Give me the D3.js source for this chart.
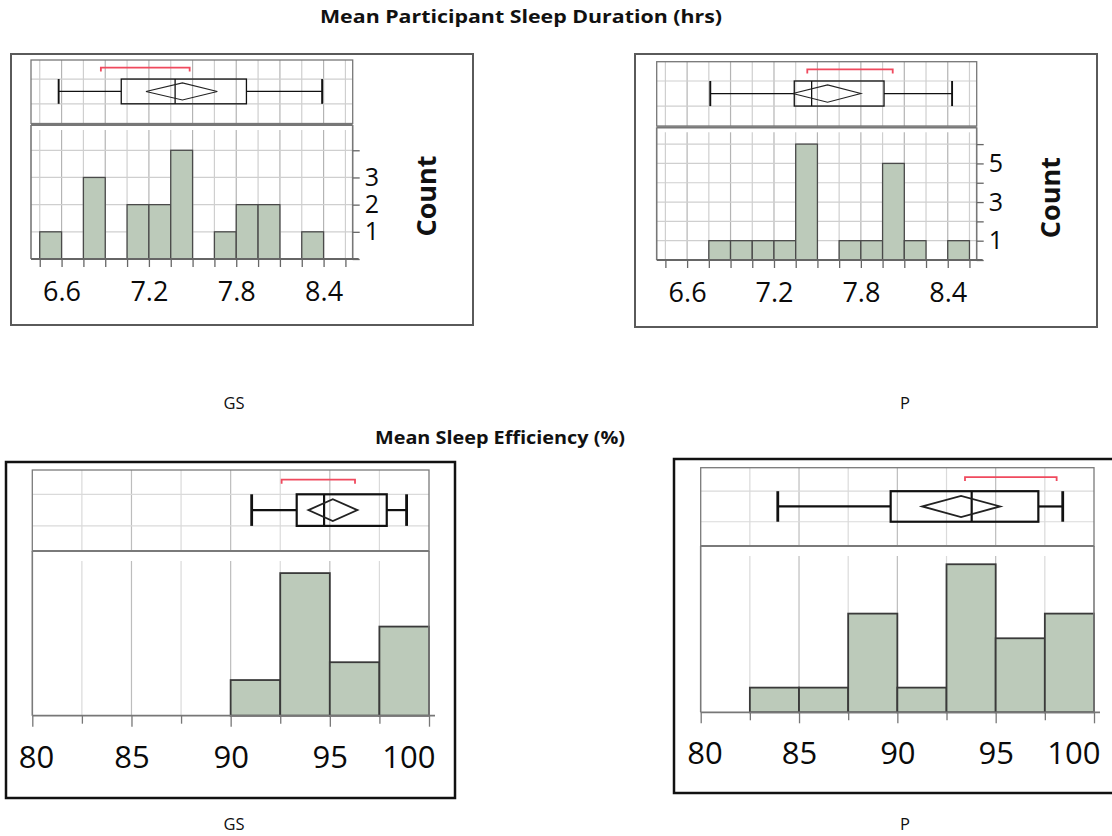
<!DOCTYPE html>
<html>
<head>
<meta charset="utf-8">
<script src="https://cdn.jsdelivr.net/npm/d3@7/dist/d3.min.js"></script>
<style>
  html, body { margin: 0; padding: 0; background: #fff; }
  svg { display: block; }
</style>
</head>
<body>
<svg id="chart" width="1112" height="836"></svg>
<script>
// ---------------- DATA ----------------
const titleDuration = "Mean Participant  Sleep Duration (hrs)";
const titleEfficiency = "Mean Sleep Efficiency (%)";
const groupNames = ["GS", "P"];

// Sleep duration histograms (bin edges in hours, counts per bin)
const durationEdges = [6.45, 6.6, 6.75, 6.9, 7.05, 7.2, 7.35, 7.5, 7.65, 7.8, 7.95, 8.1, 8.25, 8.4, 8.55];
const durationCountsGS = [1, 0, 3, 0, 2, 2, 4, 0, 1, 2, 2, 0, 1, 0];
const durationCountsP  = [0, 0, 1, 1, 1, 1, 6, 0, 1, 1, 5, 1, 0, 1];
const durationTickLabels = [6.6, 7.2, 7.8, 8.4];
const durationDarkGrid = [6.6, 6.9, 7.2, 7.5, 7.8, 8.1, 8.4];
const countTicksGS = [0, 1, 2, 3, 4];
const countLabelsGS = [1, 2, 3];
const countTicksP = [0, 1, 2, 3, 4, 5, 6];
const countLabelsP = [1, 3, 5];

// Box plot summaries: [min, q1, median, q3, max]
const durationBoxGS = [6.58, 7.01, 7.38, 7.87, 8.39];
const durationBoxP  = [6.76, 7.34, 7.46, 7.96, 8.43];
// Mean diamonds: [lower CI, mean, upper CI]
const durationMeanGS = [7.18, 7.43, 7.67];
const durationMeanP  = [7.33, 7.57, 7.80];
// Shortest half brackets: [low, high]
const durationShortGS = [6.87, 7.48];
const durationShortP  = [7.43, 8.02];

// Sleep efficiency histograms
const efficiencyEdges = [80, 82.5, 85, 87.5, 90, 92.5, 95, 97.5, 100];
const efficiencyCountsGS = [0, 0, 0, 0, 2, 8, 3, 5];
const efficiencyCountsP  = [0, 1, 1, 4, 1, 6, 3, 4];
const efficiencyTickLabels = [80, 85, 90, 95, 100];
const efficiencyDarkGrid = [85, 90, 95];
const efficiencyBoxGS = [91.06, 93.33, 94.71, 97.87, 98.87];
const efficiencyBoxP  = [83.92, 89.66, 93.78, 97.17, 98.41];
const efficiencyMeanGS = [93.92, 95.15, 96.39];
const efficiencyMeanP  = [91.27, 93.24, 95.22];
const efficiencyShortGS = [92.57, 96.27];
const efficiencyShortP  = [93.44, 98.10];

// ---------------- DRAW ----------------
const svg = d3.select("#chart");
svg.append("rect").attr("width", 1112).attr("height", 836).attr("fill", "#fff");

const FONT = "'Open Sans', 'Noto Sans', 'DejaVu Sans', sans-serif";
const BAR_FILL = "#bccaba";

function panel(o) {
  const g = svg.append("g");
  const [fx0, fy0, fx1, fy1] = o.frame;
  g.append("rect").attr("x", fx0).attr("y", fy0).attr("width", fx1 - fx0).attr("height", fy1 - fy0)
    .attr("fill", "none").attr("stroke", o.frameColor).attr("stroke-width", o.frameWidth);

  const x = d3.scaleLinear().domain(o.xDomain).range(o.xRange);
  const [by0, by1] = o.boxY;
  const [hy0, hy1] = o.histY;
  const y = d3.scaleLinear().domain([0, o.yMax]).range([hy1, hy0]);
  const bh = by1 - by0;

  // --- box area gridlines ---
  const gridX = o.edges.filter(v => x(v) > o.xRange[0] + 1 && x(v) < o.xRange[1] - 1);
  g.selectAll(null).data(gridX).join("line")
    .attr("x1", d => x(d)).attr("x2", d => x(d)).attr("y1", by0).attr("y2", by1)
    .attr("stroke", d => o.darkGrid.includes(d) ? o.gridDark : o.gridLight).attr("stroke-width", 1.2);
  [0.30, 0.69].forEach(f => {
    g.append("line").attr("x1", o.xRange[0]).attr("x2", o.xRange[1])
      .attr("y1", by0 + f * bh).attr("y2", by0 + f * bh)
      .attr("stroke", o.gridLight).attr("stroke-width", 1.2);
  });

  // --- histogram gridlines ---
  g.selectAll(null).data(gridX).join("line")
    .attr("x1", d => x(d)).attr("x2", d => x(d)).attr("y1", hy0 + o.gridGap).attr("y2", hy1)
    .attr("stroke", d => o.darkGrid.includes(d) ? o.gridDark : o.gridLight).attr("stroke-width", 1.2);
  if (o.yTicks) {
    g.selectAll(null).data(o.yTicks.filter(d => d > 0)).join("line")
      .attr("x1", o.xRange[0]).attr("x2", o.xRange[1]).attr("y1", d => y(d)).attr("y2", d => y(d))
      .attr("stroke", o.gridLight).attr("stroke-width", 1.2);
  }

  // --- bars ---
  const bins = o.counts.map((c, i) => ({ x0: o.edges[i], x1: o.edges[i + 1], c }));
  g.selectAll(null).data(bins.filter(b => b.c > 0)).join("rect")
    .attr("x", d => x(d.x0)).attr("width", d => x(d.x1) - x(d.x0))
    .attr("y", d => y(d.c)).attr("height", d => y(0) - y(d.c))
    .attr("fill", BAR_FILL).attr("stroke", o.barStroke).attr("stroke-width", o.barStrokeWidth);

  // --- frames of plot areas ---
  g.append("rect").attr("x", o.xRange[0]).attr("y", by0).attr("width", o.xRange[1] - o.xRange[0]).attr("height", bh)
    .attr("fill", "none").attr("stroke", o.areaStroke).attr("stroke-width", 1.3);
  g.append("line").attr("x1", o.xRange[0]).attr("x2", o.xRange[1]).attr("y1", hy0).attr("y2", hy0)
    .attr("stroke", o.areaStroke).attr("stroke-width", 2.2);
  g.append("line").attr("x1", o.xRange[0]).attr("x2", o.xRange[0]).attr("y1", hy0).attr("y2", hy1)
    .attr("stroke", o.areaStroke).attr("stroke-width", 1.6);
  if (o.rightLine) {
    g.append("line").attr("x1", o.xRange[1]).attr("x2", o.xRange[1]).attr("y1", hy0).attr("y2", hy1)
      .attr("stroke", o.areaStroke).attr("stroke-width", 1.6);
  }

  // --- x axis ---
  const xa = g.append("g").attr("transform", `translate(0,${hy1})`)
    .call(d3.axisBottom(x).tickValues(o.edges).tickSizeOuter(0).tickSize(o.tickLen)
      .tickFormat(d => o.tickLabels.includes(d) ? String(d) : ""));
  xa.select(".domain").attr("d", `M${o.xRange[0]},0H${o.xRange[1] + (o.rightLine ? 6 : 0)}`)
    .attr("stroke", o.axisColor).attr("stroke-width", 1.8);
  xa.selectAll(".tick line").attr("stroke", o.axisColor).attr("stroke-width", 1.3)
    .attr("y2", d => (o.majorTicks && o.majorTicks.includes(d)) ? o.tickLen + 3 : o.tickLen);
  xa.selectAll(".tick text").attr("y", o.labelOffset).attr("dy", "0.35em")
    .attr("font-family", FONT).attr("font-size", o.labelSize).attr("font-weight", 500).attr("fill", "#0a0a0a");
  if (o.clampEnds) {
    const labs = o.tickLabels;
    xa.selectAll(".tick text").each(function(d) {
      if (d === labs[0]) d3.select(this).attr("text-anchor", "start").attr("x", -14);
      if (d === labs[labs.length - 1]) d3.select(this).attr("text-anchor", "end").attr("x", 6);
    });
  }
  xa.attr("font-family", FONT);

  // --- y axis on right (count) ---
  if (o.yTicks) {
    const ya = g.append("g").attr("transform", `translate(${o.xRange[1]},0)`)
      .call(d3.axisRight(y).tickValues(o.yTicks).tickSize(7).tickSizeOuter(0)
        .tickFormat(d => o.yLabels.includes(d) ? String(d) : ""));
    ya.select(".domain").remove();
    ya.selectAll(".tick line").attr("stroke", o.axisColor).attr("stroke-width", 1.3);
    ya.selectAll(".tick text").attr("x", 12).attr("font-family", FONT)
      .attr("font-size", o.yLabelSize).attr("font-weight", 500).attr("fill", "#0a0a0a");
    g.append("text").attr("transform", `translate(${o.countX},${(hy0 + hy1) / 2 + 4}) rotate(-90)`)
      .attr("text-anchor", "middle").attr("dy", "0.35em")
      .attr("font-family", FONT).attr("font-weight", "bold").attr("font-size", 27)
      .attr("fill", "#111").text("Count");
  }

  // --- box plot ---
  const [mn, q1, md, q3, mx] = o.box;
  const cy = by0 + 0.495 * bh, bt = by0 + 0.30 * bh, bb = by0 + 0.69 * bh;
  const bw = o.boxStrokeWidth;
  g.append("line").attr("x1", x(mn)).attr("x2", x(q1)).attr("y1", cy).attr("y2", cy)
    .attr("stroke", "#111").attr("stroke-width", bw);
  g.append("line").attr("x1", x(q3)).attr("x2", x(mx)).attr("y1", cy).attr("y2", cy)
    .attr("stroke", "#111").attr("stroke-width", bw);
  [mn, mx].forEach(v => g.append("line").attr("x1", x(v)).attr("x2", x(v)).attr("y1", bt).attr("y2", bb)
    .attr("stroke", "#111").attr("stroke-width", bw + 0.6));
  g.append("rect").attr("x", x(q1)).attr("y", bt).attr("width", x(q3) - x(q1)).attr("height", bb - bt)
    .attr("fill", "none").attr("stroke", "#111").attr("stroke-width", bw);
  g.append("line").attr("x1", x(md)).attr("x2", x(md)).attr("y1", bt).attr("y2", bb)
    .attr("stroke", "#111").attr("stroke-width", bw);
  const [lo, mean, hi] = o.mean;
  const dh = 0.135 * bh;
  g.append("path").attr("d", `M${x(lo)},${cy}L${x(mean)},${cy - dh}L${x(hi)},${cy}L${x(mean)},${cy + dh}Z`)
    .attr("fill", "none").attr("stroke", "#222").attr("stroke-width", bw * 0.85);
  const [s0, s1] = o.shortest;
  const ry = by0 + 0.12 * bh;
  g.append("path").attr("d", `M${x(s0)},${ry + 4}V${ry}H${x(s1)}V${ry + 4}`)
    .attr("fill", "none").attr("stroke", "#f04a5e").attr("stroke-width", 1.8);
}

const topStyle = {
  frameColor: "#5a5a5a", frameWidth: 2, gridLight: "#cfcfcf", gridDark: "#b4b4b4",
  barStroke: "#4a4a4a", barStrokeWidth: 1.3, areaStroke: "#777", axisColor: "#666",
  tickLen: 8, labelOffset: 33, labelSize: 27, yLabelSize: 25, boxStrokeWidth: 1.3, gridGap: 5, rightLine: true,
  edges: durationEdges, darkGrid: durationDarkGrid, tickLabels: durationTickLabels, xDomain: [6.39, 8.6]
};
const bottomStyle = {
  frameColor: "#111", frameWidth: 2.5, gridLight: "#dadada", gridDark: "#bdbdbd",
  barStroke: "#3a3a3a", barStrokeWidth: 1.8, areaStroke: "#7a7a7a", axisColor: "#777",
  tickLen: 8, labelOffset: 41, labelSize: 31, boxStrokeWidth: 2.2, gridGap: 10, rightLine: true,
  edges: efficiencyEdges, darkGrid: efficiencyDarkGrid, tickLabels: efficiencyTickLabels,
  majorTicks: efficiencyTickLabels, clampEnds: true, xDomain: [80, 100]
};

panel(Object.assign({}, topStyle, {
  frame: [11, 54, 473, 325], xRange: [31, 352.7], boxY: [60, 123.5], histY: [125, 259],
  yMax: 4.93, counts: durationCountsGS, yTicks: countTicksGS, yLabels: countLabelsGS, countX: 427,
  box: durationBoxGS, mean: durationMeanGS, shortest: durationShortGS
}));
panel(Object.assign({}, topStyle, {
  frame: [635, 54, 1097, 327], xRange: [656.7, 976.7], boxY: [61.7, 126], histY: [127.3, 260],
  yMax: 6.87, counts: durationCountsP, yTicks: countTicksP, yLabels: countLabelsP, countX: 1051,
  box: durationBoxP, mean: durationMeanP, shortest: durationShortP
}));
panel(Object.assign({}, bottomStyle, {
  frame: [6, 462, 455, 798], xRange: [32.3, 429], boxY: [470, 551], histY: [551, 715.7],
  yMax: 9.24, counts: efficiencyCountsGS,
  box: efficiencyBoxGS, mean: efficiencyMeanGS, shortest: efficiencyShortGS
}));
panel(Object.assign({}, bottomStyle, {
  frame: [674, 459, 1114, 793], xRange: [700.7, 1094], boxY: [467.7, 546], histY: [546, 712.3],
  yMax: 6.74, counts: efficiencyCountsP,
  box: efficiencyBoxP, mean: efficiencyMeanP, shortest: efficiencyShortP
}));

// --- titles and group labels ---
const TFONT = "'Open Sans', 'Noto Sans', sans-serif";
svg.append("text").attr("x", 320).attr("y", 23).attr("font-family", TFONT).attr("font-weight", "bold")
  .attr("font-size", 17).attr("textLength", 402).attr("lengthAdjust", "spacingAndGlyphs")
  .attr("fill", "#111").text(titleDuration);
svg.append("text").attr("x", 375).attr("y", 444).attr("font-family", TFONT).attr("font-weight", "bold")
  .attr("font-size", 17).attr("textLength", 250).attr("lengthAdjust", "spacingAndGlyphs")
  .attr("fill", "#111").text(titleEfficiency);

const groupLabelPos = [[234, 409], [905, 409], [234, 830], [905, 830]];
groupLabelPos.forEach((p, i) => {
  svg.append("text").attr("x", p[0]).attr("y", p[1]).attr("text-anchor", "middle")
    .attr("font-family", TFONT).attr("font-size", 16.5).attr("fill", "#111")
    .text(groupNames[i % 2]);
});
</script>
</body>
</html>
